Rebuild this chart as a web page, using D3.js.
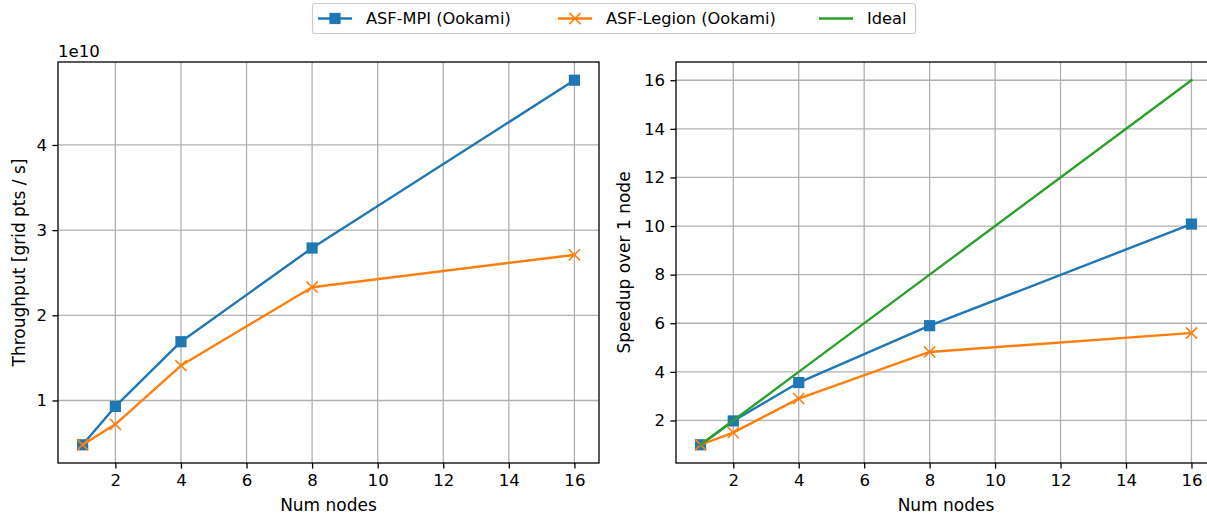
<!DOCTYPE html>
<html>
<head>
<meta charset="utf-8">
<script src="https://cdn.jsdelivr.net/npm/d3@7"></script>
<style>
  body { margin: 0; background: #fff; }
  text { font-family: "DejaVu Sans", sans-serif; fill: #000; }
</style>
</head>
<body>
<script>
var width = 1207;
var height = 515;

// data
var nodes = [1, 2, 4, 8, 16];
var throughputMPI = [0.48, 0.93, 1.69, 2.79, 4.76];     // x 1e10 grid pts / s
var throughputLegion = [0.48, 0.72, 1.41, 2.33, 2.71];  // x 1e10 grid pts / s
var speedupMPI = [1, 1.98, 3.56, 5.9, 10.08];
var speedupLegion = [1, 1.5, 2.9, 4.82, 5.6];
var speedupIdeal = [1, 2, 4, 8, 16];
var xTicks = [2, 4, 6, 8, 10, 12, 14, 16];
var leftYTicks = [1, 2, 3, 4];
var rightYTicks = [2, 4, 6, 8, 10, 12, 14, 16];
var seriesNames = ["ASF-MPI (Ookami)", "ASF-Legion (Ookami)", "Ideal"];

var blue = "#1f77b4", orange = "#ff7f0e", green = "#2ca02c";
var tickFont = 16.6;
var labelFont = 17;
var legendFont = 16.2;
var lineW = 2.4;

var svg = d3.select("body").append("svg")
    .attr("width", width)
    .attr("height", height);

function padded(vals) {
    var ext = d3.extent(vals);
    var p = (ext[1] - ext[0]) * 0.05;
    return [ext[0] - p, ext[1] + p];
}

function drawPanel(opt) {
    var g = svg.append("g");
    var x = d3.scaleLinear().domain(padded(nodes)).range([opt.left, opt.right]);
    var y = d3.scaleLinear().domain(padded(opt.allY)).range([opt.bottom, opt.top]);

    // grid
    g.append("g").selectAll("line").data(xTicks).join("line")
        .attr("x1", d => x(d)).attr("x2", d => x(d))
        .attr("y1", opt.top).attr("y2", opt.bottom)
        .attr("stroke", "#b0b0b0").attr("stroke-width", 1.3);
    g.append("g").selectAll("line").data(opt.yTicks).join("line")
        .attr("x1", opt.left).attr("x2", opt.right)
        .attr("y1", d => y(d)).attr("y2", d => y(d))
        .attr("stroke", "#b0b0b0").attr("stroke-width", 1.3);

    // axes
    var xAxis = g.append("g")
        .attr("transform", "translate(0," + opt.bottom + ")")
        .call(d3.axisBottom(x).tickValues(xTicks).tickFormat(d3.format("d")).tickSize(5.6).tickPadding(6));
    var yAxis = g.append("g")
        .attr("transform", "translate(" + opt.left + ",0)")
        .call(d3.axisLeft(y).tickValues(opt.yTicks).tickFormat(d3.format("d")).tickSize(5.6).tickPadding(5.4));
    [xAxis, yAxis].forEach(function(a) {
        a.attr("font-size", tickFont).attr("font-family", "DejaVu Sans");
        a.select(".domain").remove();
        a.selectAll(".tick line").attr("stroke", "#000").attr("stroke-width", 1.3);
        a.selectAll(".tick text").attr("fill", "#000");
    });

    // series
    opt.series.forEach(function(s) {
        var line = d3.line().x((d, i) => x(nodes[i])).y(d => y(d));
        g.append("path").datum(s.values)
            .attr("d", line)
            .attr("fill", "none")
            .attr("stroke", s.color)
            .attr("stroke-width", lineW)
            .attr("stroke-linejoin", "round")
            .attr("stroke-linecap", "square");
        if (s.marker == "square") {
            g.append("g").selectAll("rect").data(s.values).join("rect")
                .attr("x", (d, i) => x(nodes[i]) - 5.6)
                .attr("y", d => y(d) - 5.6)
                .attr("width", 11.2).attr("height", 11.2)
                .attr("fill", s.color);
        } else if (s.marker == "x") {
            g.append("g").selectAll("path").data(s.values).join("path")
                .attr("transform", (d, i) => "translate(" + x(nodes[i]) + "," + y(d) + ")")
                .attr("d", "M-5.6,-5.6L5.6,5.6M-5.6,5.6L5.6,-5.6")
                .attr("stroke", s.color).attr("stroke-width", 1.6).attr("fill", "none");
        }
    });

    // spines
    g.append("rect")
        .attr("x", opt.left).attr("y", opt.top)
        .attr("width", opt.right - opt.left).attr("height", opt.bottom - opt.top)
        .attr("fill", "none").attr("stroke", "#000").attr("stroke-width", 1.3);

    // labels
    g.append("text")
        .attr("x", (opt.left + opt.right) / 2).attr("y", 511)
        .attr("text-anchor", "middle").attr("font-size", labelFont)
        .text("Num nodes");
    g.append("text")
        .attr("transform", "translate(" + opt.ylabelX + "," + (opt.top + opt.bottom) / 2 + ") rotate(-90)")
        .attr("text-anchor", "middle").attr("font-size", labelFont)
        .text(opt.ylabel);
    return {x: x, y: y};
}

drawPanel({
    left: 58, right: 599, top: 62, bottom: 463,
    allY: throughputMPI.concat(throughputLegion),
    yTicks: leftYTicks,
    ylabel: "Throughput [grid pts / s]", ylabelX: 25,
    series: [
        {values: throughputMPI, color: blue, marker: "square"},
        {values: throughputLegion, color: orange, marker: "x"}
    ]
});
svg.append("text").attr("x", 58).attr("y", 57).attr("font-size", tickFont).text("1e10");

drawPanel({
    left: 676, right: 1216, top: 62, bottom: 463,
    allY: speedupMPI.concat(speedupLegion, speedupIdeal),
    yTicks: rightYTicks,
    ylabel: "Speedup over 1 node", ylabelX: 630,
    series: [
        {values: speedupMPI, color: blue, marker: "square"},
        {values: speedupLegion, color: orange, marker: "x"},
        {values: speedupIdeal, color: green, marker: "none"}
    ]
});

// legend
var legend = svg.append("g");
legend.append("rect")
    .attr("x", 312.5).attr("y", 3.5).attr("width", 603).attr("height", 30)
    .attr("rx", 3).attr("fill", "#fff").attr("stroke", "#cccccc").attr("stroke-width", 1.2);
var legendItems = [
    {name: seriesNames[0], color: blue, marker: "square", hx: 318},
    {name: seriesNames[1], color: orange, marker: "x", hx: 558},
    {name: seriesNames[2], color: green, marker: "none", hx: 819}
];
legendItems.forEach(function(it) {
    var ly = 18.5;
    legend.append("line")
        .attr("x1", it.hx).attr("x2", it.hx + 34)
        .attr("y1", ly).attr("y2", ly)
        .attr("stroke", it.color).attr("stroke-width", lineW);
    var cx = it.hx + 17;
    if (it.marker == "square") {
        legend.append("rect").attr("x", cx - 5.6).attr("y", ly - 5.6)
            .attr("width", 11.2).attr("height", 11.2).attr("fill", it.color);
    } else if (it.marker == "x") {
        legend.append("path")
            .attr("transform", "translate(" + cx + "," + ly + ")")
            .attr("d", "M-5.6,-5.6L5.6,5.6M-5.6,5.6L5.6,-5.6")
            .attr("stroke", it.color).attr("stroke-width", 1.6);
    }
    legend.append("text")
        .attr("x", it.hx + 48).attr("y", ly)
        .attr("dy", "0.35em").attr("font-size", legendFont)
        .text(it.name);
});
</script>
</body>
</html>
